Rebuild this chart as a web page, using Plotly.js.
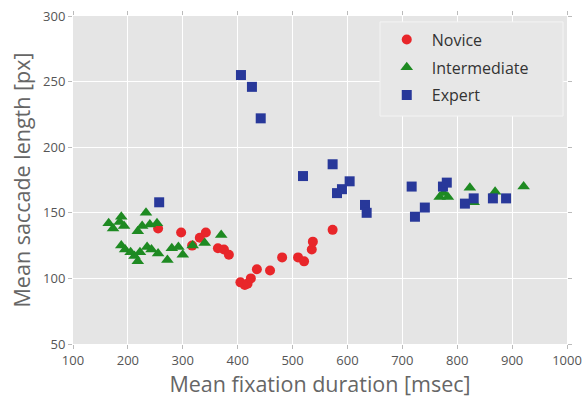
<!DOCTYPE html>
<html>
<head>
<meta charset="utf-8">
<script src="https://cdn.plot.ly/plotly-3.0.1.min.js"></script>
<style>html,body{margin:0;padding:0;background:#fff;}#chart{width:584px;height:398px;}</style>
</head>
<body>
<div id="chart"></div>
<script>
const noviceX = [255,297,317,331,342,364,375,384,405,413,418,424,435,459,481,510,521,535,537,573];
const noviceY = [138,135,125,131,135,123,122,118,97,95,96,100,107,106,116,116,113,122,128,137];

const interX = [165,173,185,188,193,218,226,233,240,253,188,195,205,212,218,222,235,243,255,272,280,292,300,318,340,370,768,775,783,823,830,869,921];
const interY = [142,138,143,147,140,136,140,150,141,142,125,122,120,117,113,120,124,122,119,114,123,124,118,125,127,133,162,165,162,169,158,166,170];

const expertX = [257,406,426,442,519,573,581,590,604,632,635,717,723,741,774,781,814,830,865,889];
const expertY = [158,255,246,222,178,187,165,168,174,156,150,170,147,154,170,173,157,161,161,161];

const xTicks = [100,200,300,400,500,600,700,800,900,1000];
const yTicks = [50,100,150,200,250,300];

const common = {type:'scatter', mode:'markers'};
const traces = [
  Object.assign({}, common, {name:'Novice', legendgroup:'a', x:noviceX, y:noviceY,
    marker:{symbol:'circle', size:10, color:'#e8262a'}}),
  Object.assign({}, common, {name:'Intermediate', legendgroup:'b', x:interX, y:interY,
    marker:{symbol:'triangle-up', size:11, color:'#1e8a22'}}),
  Object.assign({}, common, {name:'Expert', legendgroup:'c', x:expertX, y:expertY,
    marker:{symbol:'square', size:10, color:'#28389a'}})
];

const axisCommon = {
  showgrid:true, gridcolor:'#ffffff', gridwidth:1, zeroline:false, showline:false,
  ticks:'outside', ticklen:4, tickcolor:'#bbbbbb', mirror:'ticks',
  tickfont:{family:'Open Sans, sans-serif', size:13, color:'#555555'}
};

const layout = {
  width:584, height:398,
  margin:{l:73, r:17, t:16, b:54},
  paper_bgcolor:'#ffffff', plot_bgcolor:'#e5e5e5',
  showlegend:true,
  xaxis: Object.assign({}, axisCommon, {
    range:[100,1000], tickvals:xTicks, ticktext:xTicks.map(String),
    title:{text:'Mean fixation duration [msec]', font:{family:'Open Sans, sans-serif', size:21.5, color:'#666666'}, standoff:4}
  }),
  yaxis: Object.assign({}, axisCommon, {
    range:[50,300], tickvals:yTicks, ticktext:yTicks.map(String),
    title:{text:'Mean saccade length [px]', font:{family:'Open Sans, sans-serif', size:21.5, color:'#666666'}, standoff:6}
  }),
  shapes:[{type:'rect', xref:'paper', yref:'paper', x0:0.6215, x1:0.992, y0:0.695, y1:0.982,
    fillcolor:'#e7e7e7', line:{color:'#f4f4f4', width:1}, layer:'above'}],
  legend:{x:0.625, y:0.98, xanchor:'left', yanchor:'top',
    bgcolor:'rgba(0,0,0,0)', borderwidth:0,
    font:{family:'Open Sans, sans-serif', size:16, color:'#333333'},
    itemwidth:40, tracegroupgap:4}
};

Plotly.newPlot('chart', traces, layout, {displayModeBar:false, staticPlot:true});
</script>
</body>
</html>
